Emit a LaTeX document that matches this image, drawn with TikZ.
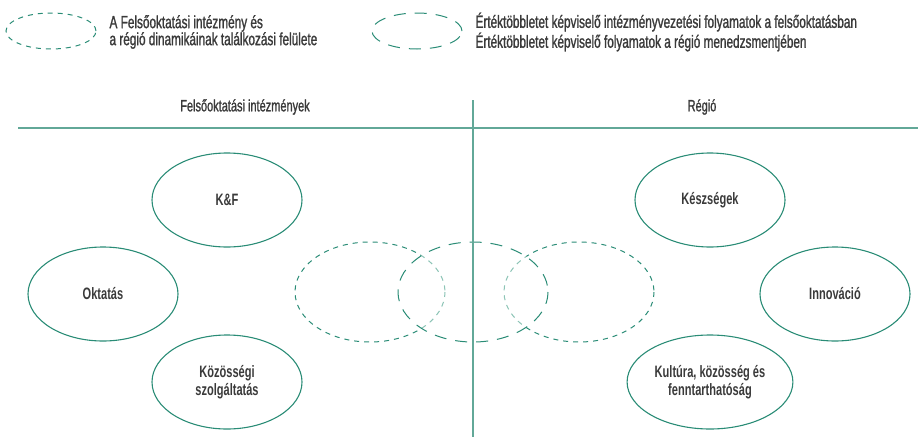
\documentclass[tikz,border=0pt]{standalone}
\usepackage{fontspec}
\setmainfont{Liberation Sans}[FakeStretch=0.67]
\newfontfamily\semibold{Liberation Sans}[FakeStretch=0.67,FakeBold=1.2]
\usetikzlibrary{shapes.geometric,positioning}
\definecolor{teal1}{HTML}{2A8C76}
\definecolor{teallight}{HTML}{8CC4B6}
\definecolor{tealline}{HTML}{62A898}
\definecolor{txt}{HTML}{3A3A3A}
\begin{document}
\begin{tikzpicture}[x=1pt,y=-1pt,
  topic/.style={ellipse, draw=teal1, line width=1.1pt, minimum width=150pt, minimum height=94pt,
    align=center, text=txt, font=\fontsize{16.5}{18}\selectfont\bfseries},
  shortdash/.style={draw=teal1, line width=1pt, dash pattern=on 5pt off 5pt},
  longdash/.style={draw=teal1, line width=1pt, dash pattern=on 12pt off 9pt},
  legendtext/.style={align=left, text=txt, font=\semibold\fontsize{17.6}{17}\selectfont},
  head/.style={text=txt, font=\semibold\fontsize{16.4}{18}\selectfont}]
\useasboundingbox (0,0) rectangle (918,439);
% legend
\node[ellipse, shortdash, minimum width=90pt, minimum height=36pt] (leg1) at (51,31) {};
\node[legendtext, anchor=west] (leg1t) at (106,32) {A Felsőoktatási intézmény és\\a régió dinamikáinak találkozási felülete};
\node[ellipse, longdash, minimum width=90pt, minimum height=36pt] (leg2) at (417,31) {};
\node[legendtext, anchor=west] (leg2t) at (472,32) {Értéktöbbletet képviselő intézményvezetési folyamatok a felsőoktatásban\\Értéktöbbletet képviselő folyamatok a régió menedzsmentjében};
% headings
\node[head] (hfo) at (245,107) {Felsőoktatási intézmények};
\node[head] (hreg) at (702,107) {Régió};
% topics
\node[topic] (kf) at (227,200) {K\&F};
\node[topic] (okt) at (103,294) {Oktatás};
\node[topic] (kozs) at (227,382) {Közösségi\\szolgáltatás};
\node[topic] (kesz) at (710,200) {Készségek};
\node[topic] (inno) at (835,294) {Innováció};
\node[topic] (kult) at (710,382) {Kultúra, közösség és\\fenntarthatóság};
% meeting areas
\draw[shortdash] (370,292) ellipse (75 and 50);
\draw[shortdash] (579,292) ellipse (75 and 50);
\fill[white] (473,292) ellipse (75 and 50);
\begin{scope}
\clip (473,292) ellipse (75 and 50);
\draw[shortdash, draw=teallight] (370,292) ellipse (75 and 50);
\draw[shortdash, draw=teallight] (579,292) ellipse (75 and 50);
\end{scope}
\draw[longdash] (473,292) ellipse (75 and 50);
% divider lines
\coordinate (vtop) at (473,100);
\coordinate (vbot) at (473,437);
\coordinate (hl) at (18,128);
\coordinate (hr) at (918,128);
\draw[tealline, line width=1.6pt] (hl) -- (hr);
\draw[tealline, line width=1.6pt] (vtop) -- (vbot);
\end{tikzpicture}
\end{document}
